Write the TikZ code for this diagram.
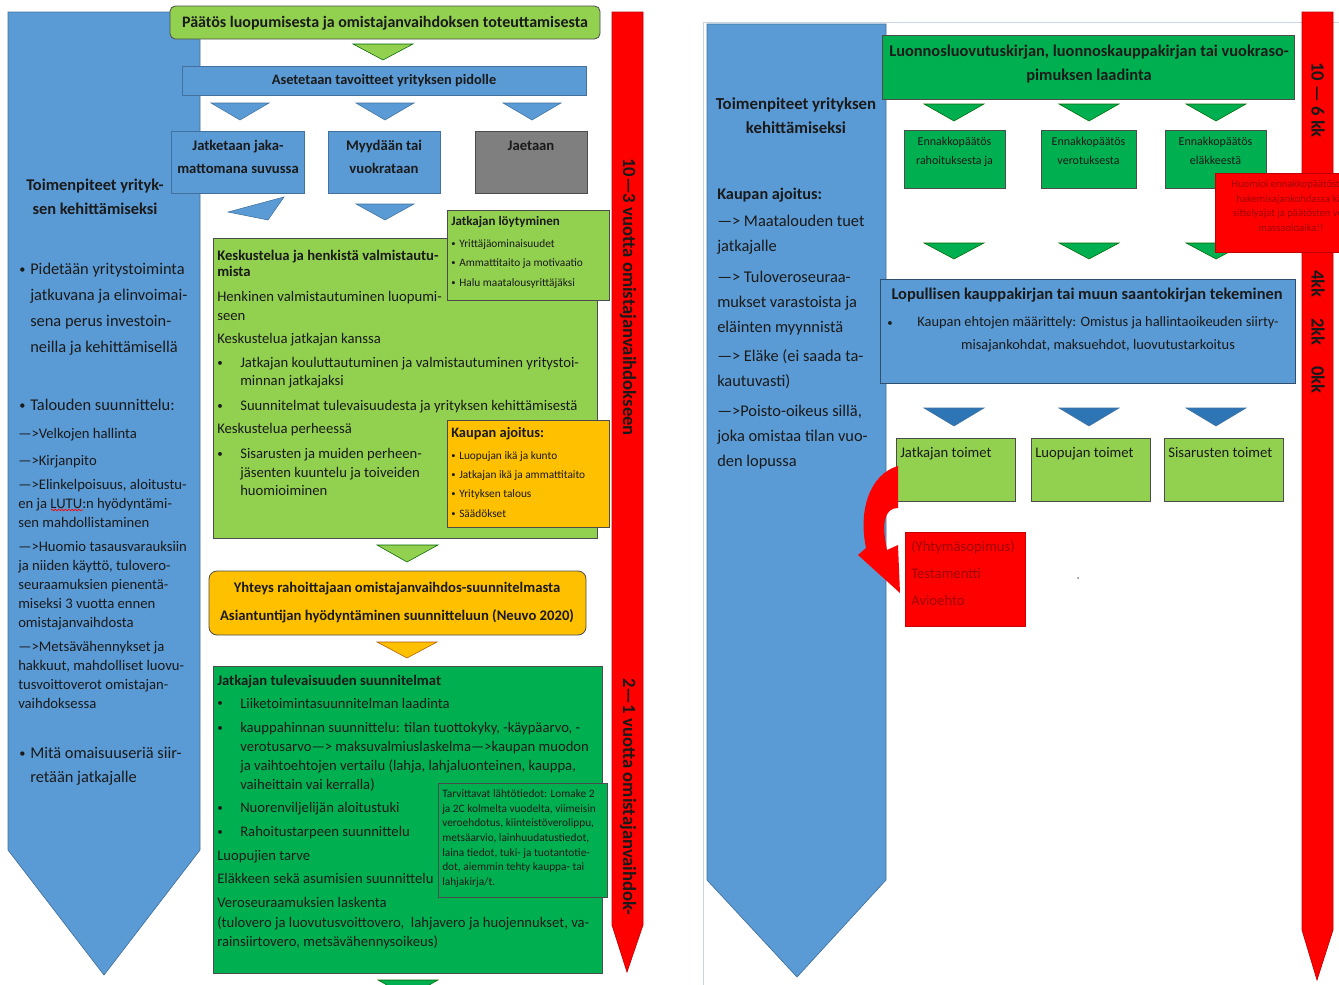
\documentclass[tikz,border=0pt]{standalone}
\usepackage{fontspec}
\setmainfont{Carlito}
\usepackage{graphicx}
\usetikzlibrary{decorations.pathmorphing}

\definecolor{bluef}{HTML}{5B9BD5}
\definecolor{bluel}{HTML}{41719C}
\definecolor{blued}{HTML}{2E75B6}
\definecolor{lgreen}{HTML}{92D050}
\definecolor{dgreen}{HTML}{00B050}
\definecolor{orng}{HTML}{FFC000}
\definecolor{redf}{HTML}{FF0000}
\definecolor{redl}{HTML}{C00000}
\definecolor{redt}{HTML}{A00000}
\definecolor{grayf}{HTML}{7F7F7F}
\definecolor{ink}{HTML}{1A1A1A}
\definecolor{pagel}{HTML}{C9D5E3}

\newcommand{\fsz}[2]{\fontsize{#1}{#2}\selectfont}
\newcommand{\tstrut}{\rule{0pt}{.8em}}
\newcommand{\bul}[1]{\makebox[#1][l]{\raisebox{.08em}{\scalebox{.75}{\textbullet}}}}

\begin{document}
\begin{tikzpicture}[x=0.75pt, y=-0.75pt,
	txt/.style={inner sep=0pt, anchor=north west, align=left, text=ink},
	ctxt/.style={inner sep=0pt, anchor=north, align=center, text=ink},
	vtxt/.style={inner sep=0pt, rotate=-90, text=ink, font=\bfseries\fsz{14}{16}},
	boxln/.style={draw=black!70, line width=0.6pt},
	tri/.style={line width=0.4pt}]
	\useasboundingbox (0,0) rectangle (1339,985);
	\clip (0,0) rectangle (1339,985);
	\fill[white] (0,0) rectangle (1339,985);

	%LEFT PAGE: BLUE ARROW
	\filldraw[fill=bluef, draw=bluel, line width=0.5pt] (8,12)--(200,12)--(200,850)--(104,975)--(8,850)--cycle;
	\node[ctxt, font=\bfseries\fsz{12.3}{18}] (lhead) at (95,177) {\tstrut Toimenpiteet yrityk-\\sen kehittämiseksi};
	\node[txt, font=\fsz{12.3}{19.5}] (lb1) at (19,261) {\tstrut\bul{8.25pt}Pidetään yritystoiminta\\\hspace*{8.25pt}jatkuvana ja elinvoimai-\\\hspace*{8.25pt}sena perus investoin-\\\hspace*{8.25pt}neilla ja kehittämisellä};
	\node[txt, font=\fsz{12.3}{19.5}] (lb2) at (19,397) {\tstrut\bul{8.25pt}Talouden suunnittelu:};
	\node[txt, font=\fsz{11}{14.25}] (larr) at (18,426) {\tstrut—>Velkojen hallinta\\[6.5pt]
		—>Kirjanpito\\[3.75pt]
		—>Elinkelpoisuus, aloitustu-\\en ja LUTU:n hyödyntämi-\\sen mahdollistaminen\\[3.75pt]
		—>Huomio tasausvarauksiin\\ja niiden käyttö, tulovero-\\seuraamuksien pienentä-\\miseksi 3 vuotta ennen\\omistajanvaihdosta\\[3.75pt]
		—>Metsävähennykset ja\\hakkuut, mahdolliset luovu-\\tusvoittoverot omistajan-\\vaihdoksessa};
	\draw[redf, line width=0.5pt, decorate, decoration={snake, amplitude=0.6pt, segment length=2.5pt}] (51,510) -- (83,510);
	\node[txt, font=\fsz{12.3}{18}] (lb3) at (19,745) {\tstrut\bul{8.25pt}Mitä omaisuuseriä siir-\\\hspace*{8.25pt}retään jatkajalle};

	%TOP FLOW
	\draw[boxln, fill=lgreen, rounded corners=4pt] (170,6) rectangle (600,39);
	\node[inner sep=0pt, text=ink, font=\bfseries\fsz{12}{14}] (title) at (385,23) {Päätös luopumisesta ja omistajanvaihdoksen toteuttamisesta};
	\filldraw[tri, fill=lgreen, draw=green!40!black] (353,44)--(413,44)--(383,60)--cycle;
	\draw[boxln, draw=bluel, fill=bluef] (182,66) rectangle (586,95);
	\node[inner sep=0pt, text=ink, font=\bfseries\fsz{10.8}{13}] (goals) at (384,81) {Asetetaan tavoitteet yrityksen pidolle};
	\foreach \cx in {240,385,532}
		\filldraw[tri, fill=bluef, draw=bluel] (\cx-29,103)--(\cx+29,103)--(\cx,120)--cycle;
	\draw[boxln, draw=bluel, fill=bluef] (171,131) rectangle (304,193);
	\draw[boxln, draw=bluel, fill=bluef] (328,131) rectangle (440,193);
	\draw[boxln, fill=grayf] (475,131) rectangle (587,193);
	\node[ctxt, font=\bfseries\fsz{11}{17.25}] (opt1) at (238,138) {\tstrut Jatketaan jaka-\\mattomana suvussa};
	\node[ctxt, font=\bfseries\fsz{11}{17.25}] (opt2) at (384,138) {\tstrut Myydään tai\\vuokrataan};
	\node[ctxt, font=\bfseries\fsz{11}{17.25}] (opt3) at (531,138) {\tstrut Jaetaan};
	\filldraw[tri, fill=bluef, draw=bluel] (228,212)--(284,197)--(268,220)--cycle;
	\filldraw[tri, fill=bluef, draw=bluel] (356,204)--(414,204)--(385,220)--cycle;

	%DISCUSSION
	\draw[boxln, fill=lgreen] (213,238) rectangle (597,538);
	\node[txt, font=\fsz{11}{13.9}] (talk) at (217,248) {\textbf{\tstrut Keskustelua ja henkistä valmistautu-}\\[-1.9pt]\textbf{mista}\\[5.5pt]
		Henkinen valmistautuminen luopumi-\\seen\\[3.3pt]
		Keskustelua jatkajan kanssa\\[4pt]
		\bul{17.25pt}Jatkajan kouluttautuminen ja valmistautuminen yritystoi-\\\hspace*{17.25pt}minnan jatkajaksi\\[4.8pt]
		\bul{17.25pt}Suunnitelmat tulevaisuudesta ja yrityksen kehittämisestä\\[3.3pt]
		Keskustelua perheessä\\[4.8pt]
		\bul{17.25pt}Sisarusten ja muiden perheen-\\\hspace*{17.25pt}jäsenten kuuntelu ja toiveiden\\\hspace*{17.25pt}huomioiminen};
	\draw[boxln, fill=lgreen] (447,210) rectangle (609,300);
	\node[txt, font=\fsz{8.5}{14.6}] (find) at (451,215) {\textbf{\fsz{9.75}{14.6}\tstrut Jatkajan löytyminen}\\[1.5pt]
		\bul{6pt}Yrittäjäominaisuudet\\\bul{6pt}Ammattitaito ja motivaatio\\\bul{6pt}Halu maatalousyrittäjäksi};
	\draw[boxln, fill=orng] (447,420) rectangle (609,527);
	\node[txt, font=\fsz{8.5}{14.5}] (timing) at (451,426) {\textbf{\fsz{10.8}{14.5}\tstrut Kaupan ajoitus:}\\[1.5pt]
		\bul{6pt}Luopujan ikä ja kunto\\\bul{6pt}Jatkajan ikä ja ammattitaito\\\bul{6pt}Yrityksen talous\\\bul{6pt}Säädökset};

	%FINANCE
	\filldraw[tri, fill=lgreen, draw=green!40!black] (377,545)--(438,545)--(407,562)--cycle;
	\draw[boxln, fill=orng, rounded corners=6pt] (209,571) rectangle (586,635);
	\node[ctxt, font=\bfseries\fsz{11}{21}] (finance) at (397,580) {\tstrut Yhteys rahoittajaan omistajanvaihdos-suunnitelmasta\\Asiantuntijan hyödyntäminen suunnitteluun (Neuvo 2020)};
	\filldraw[tri, fill=orng, draw=orange!70!black] (377,642)--(437,642)--(407,658)--cycle;

	%FUTURE PLANS
	\draw[boxln, fill=dgreen] (213,666) rectangle (602,973);
	\node[txt, font=\fsz{11}{14.25}] (future) at (217,673) {\textbf{\tstrut Jatkajan tulevaisuuden suunnitelmat}\\[3pt]
		\bul{17.25pt}Liiketoimintasuunnitelman laadinta\\[4pt]
		\bul{17.25pt}kauppahinnan suunnittelu: tilan tuottokyky, -käypäarvo, -\\
		\hspace*{17.25pt}verotusarvo—> maksuvalmiuslaskelma—>kaupan muodon\\
		\hspace*{17.25pt}ja vaihtoehtojen vertailu (lahja, lahjaluonteinen, kauppa,\\
		\hspace*{17.25pt}vaiheittain vai kerralla)\\[3pt]
		\bul{17.25pt}Nuorenviljelijän aloitustuki\\[4pt]
		\bul{17.25pt}Rahoitustarpeen suunnittelu\\[3.5pt]
		Luopujien tarve\\[3pt]
		Eläkkeen sekä asumisien suunnittelu\\[3.5pt]
		Veroseuraamuksien laskenta\\[1pt]
		(tulovero ja luovutusvoittovero,\ \ lahjavero ja huojennukset, va-\\
		rainsiirtovero, metsävähennysoikeus)};
	\draw[boxln, fill=dgreen] (438,783) rectangle (607,897);
	\node[txt, font=\fsz{8.5}{11}] (data) at (442,788) {\tstrut Tarvittavat lähtötiedot: Lomake 2\\ja 2C kolmelta vuodelta, viimeisin\\veroehdotus, kiinteistöverolippu,\\metsäarvio, lainhuudatustiedot,\\laina tiedot, tuki- ja tuotantotie-\\dot, aiemmin tehty kauppa- tai\\lahjakirja/t.};
	\filldraw[tri, fill=dgreen, draw=green!40!black] (378,980)--(438,980)--(408,997)--cycle;

	%LEFT RED ARROW
	\filldraw[fill=redf, draw=redl, line width=0.5pt] (612,12)--(643,12)--(643,925)--(627,972)--(612,925)--cycle;
	\node[vtxt] (yrs1) at (628,297) {10—3 vuotta omistajanvaihdokseen};
	\node[vtxt] (yrs2) at (628,797) {2—1 vuotta omistajanvaihdok-};

	%RIGHT PAGE: BLUE ARROW
	\draw[pagel, line width=0.6pt] (703,985)--(703,22)--(1339,22);
	\filldraw[fill=bluef, draw=bluel, line width=0.5pt] (707,24)--(886,24)--(886,880)--(797,977)--(707,880)--cycle;
	\node[ctxt, font=\bfseries\fsz{12.6}{18}] (rhead) at (796,96) {\tstrut Toimenpiteet yrityksen\\kehittämiseksi};
	\node[txt, font=\bfseries\fsz{12.2}{18}] (rtime) at (717,186) {\tstrut Kaupan ajoitus:};
	\node[txt, font=\fsz{12.3}{18.75}] (rlist) at (717,213) {\tstrut—> Maatalouden tuet\\jatkajalle\\[4.5pt]
		—> Tuloveroseuraa-\\mukset varastoista ja\\eläinten myynnistä\\[3pt]
		—> Eläke (ei saada ta-\\kautuvasti)\\[3.75pt]
		—>Poisto-oikeus sillä,\\joka omistaa tilan vuo-\\den lopussa};

	%DRAFT AND ADVANCE RULINGS
	\draw[boxln, fill=dgreen] (882,35) rectangle (1294,99);
	\node[ctxt, font=\bfseries\fsz{12.3}{18}] (draft) at (1089,43) {\tstrut Luonnosluovutuskirjan, luonnoskauppakirjan tai vuokraso-\\pimuksen laadinta};
	\foreach \cx in {954,1089,1216}{
		\filldraw[tri, fill=dgreen, draw=green!40!black] (\cx-30,104)--(\cx+30,104)--(\cx,121)--cycle;
		\filldraw[tri, fill=dgreen, draw=green!40!black] (\cx-30,243)--(\cx+30,243)--(\cx,259)--cycle;
		\filldraw[tri, fill=blued, draw=bluel] (\cx-30,408)--(\cx+30,408)--(\cx,426)--cycle;
	}
	\foreach \x/\w/\t [count=\i] in {904/101/rahoituksesta ja, 1041/95/verotuksesta, 1165/101/eläkkeestä}{
		\draw[boxln, fill=dgreen] (\x,130) rectangle (\x+\w,188);
		\node[ctxt, font=\fsz{9}{14.25}] (pre\i) at (\x+\w/2,136) {\tstrut Ennakkopäätös\\\t};
	}

	%FINAL DEED
	\draw[boxln, draw=bluel!70!black, fill=bluef] (880,279) rectangle (1295,383);
	\node[ctxt, font=\bfseries\fsz{12.3}{18}] (final) at (1087,286) {\tstrut Lopullisen kauppakirjan tai muun saantokirjan tekeminen};
	\node[ctxt, font=\fsz{10.8}{17.25}] (finalbul) at (890,315) {\tstrut\scalebox{.75}{\textbullet}};
	\node[ctxt, font=\fsz{10.8}{17.25}] (terms) at (1098,315) {\tstrut Kaupan ehtojen määrittely: Omistus ja hallintaoikeuden siirty-\\misajankohdat, maksuehdot, luovutustarkoitus};

	%ACTIONS
	\foreach \x/\t [count=\i] in {896/Jatkajan toimet, 1031/Luopujan toimet, 1164/Sisarusten toimet}{
		\draw[boxln, fill=lgreen] (\x,438) rectangle (\x+119,501);
		\node[txt, font=\fsz{11}{13}] (act\i) at (\x+4,445) {\tstrut\t};
	}
	\fill[redf] (898,466) .. controls (870,474) and (858,510) .. (866,548) -- (858,555) -- (900,593) -- (898,545) -- (887,550) .. controls (881,522) and (885,508) .. (898,508) -- cycle;
	\filldraw[fill=redf, draw=redf!80!black, line width=0.4pt] (905,532) rectangle (1025,626);
	\node[txt, text=redt, font=\fsz{11}{20.25}] (docs) at (911,539) {\tstrut(Yhtymäsopimus)\\Testamentti\\Avioehto};
	\fill[gray] (1078,578) circle (1);

	%RIGHT RED ARROW
	\filldraw[fill=redf, draw=redl, line width=0.5pt] (1302,12)--(1333,12)--(1333,930)--(1317,980)--(1302,930)--cycle;
	\node[vtxt] (mon1) at (1318,100) {10 — 6 kk};
	\node[vtxt] (mon2) at (1318,332) {4kk\hspace{1.1em}2kk\hspace{1.1em}0kk};
	\filldraw[fill=redf, draw=redl, line width=0.4pt] (1215,173) rectangle (1372,252);
	\node[ctxt, text=redt, font=\fsz{8}{10.9}] (note) at (1291,179) {\tstrut Huomioi ennakkopäätösten\\hakemisajankohdassa kä-\\sittelyajat ja päätösten voi-\\massaoloaika!!};
\end{tikzpicture}
\end{document}
